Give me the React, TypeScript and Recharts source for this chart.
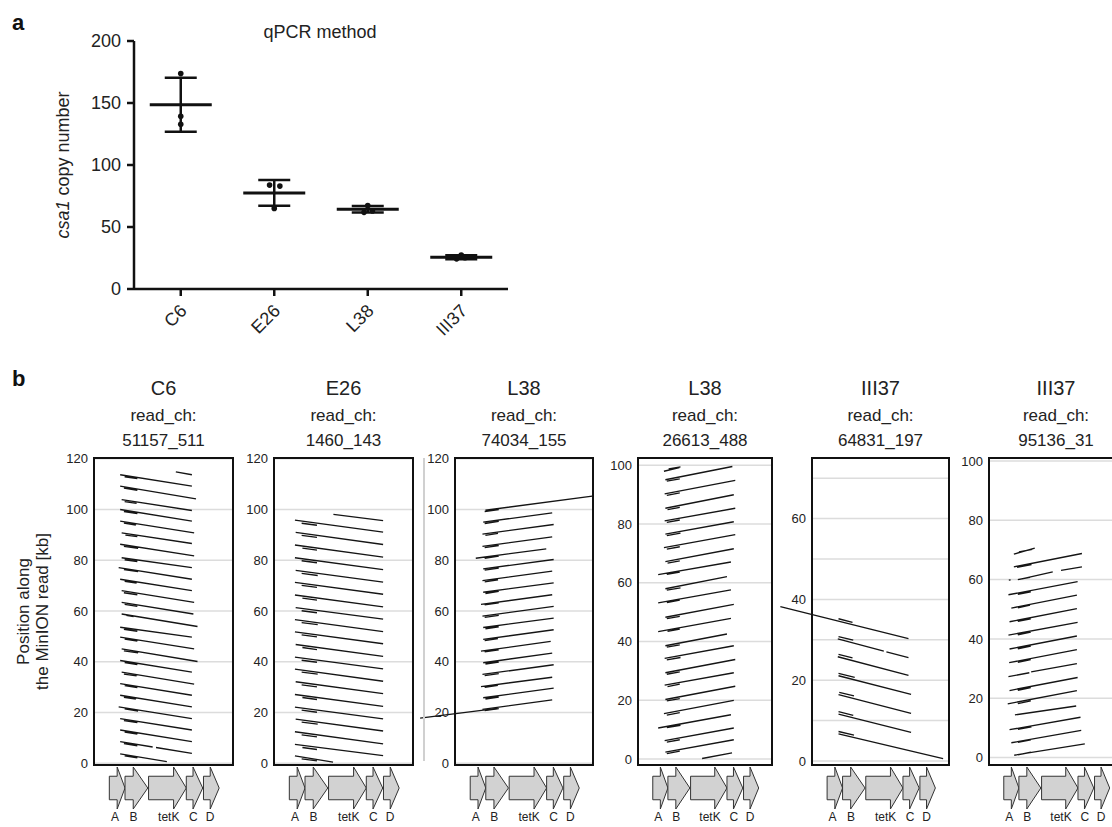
import React from 'react';
import {
  ComposedChart, Line, Scatter, ErrorBar, XAxis, YAxis, CartesianGrid,
  ReferenceLine, ReferenceArea,
} from 'recharts';

type Seg = [number, number, number, number];

const FONT = '"Liberation Sans", Arial, Helvetica, sans-serif';

// ---- panel a: qPCR copy number ----
const strains = ['C6', 'E26', 'L38', 'III37'];
const qpcrMean = [148.6, 77.5, 64.3, 25.6];
const qpcrSd = [21.8, 10.4, 2.6, 1.6];
const qpcrReps = [
  [173.7, 139.3, 132.9],
  [83.8, 83.0, 65.0],
  [67.2, 61.8, 63.0],
  [27.3, 24.3, 25.3],
];
const qpcrJitter = [
  [0, 0, 0],
  [-0.05, 0.06, 0],
  [0, -0.04, 0.05],
  [0, -0.05, 0.04],
];

// ---- panel b: genes on the reference (x in kb-ish units) ----
const genes = ['A', 'B', 'tetK', 'C', 'D'];
const geneStart = [0.41, 0.83, 1.46, 2.47, 2.93];
const geneHead = [0.62, 1.05, 2.13, 2.65, 3.11];
const geneEnd = [0.83, 1.44, 2.47, 2.91, 3.35];
const geneLabelX = [0.56, 1.06, 2.0, 2.66, 3.11];

const readStrains = ['C6', 'E26', 'L38', 'L38', 'III37', 'III37'];
const readIds = ['51157_511', '1460_143', '74034_155', '26613_488', '64831_197', '95136_31'];

// alignments [refStart, readStart, refEnd, readEnd]
const c6Hits: Seg[] = [
  [2.19, 114.8, 2.62, 113.7],
  [0.70, 113.7, 2.62, 109.2], [0.70, 109.2, 2.73, 104.2], [0.74, 103.9, 2.62, 99.6],
  [0.70, 100.0, 2.62, 95.4], [0.70, 95.4, 2.68, 90.8], [0.74, 90.8, 2.62, 86.6],
  [0.70, 86.3, 2.68, 81.7], [0.74, 81.0, 2.62, 77.1], [0.66, 77.1, 2.62, 72.5],
  [0.70, 72.5, 2.62, 68.0], [0.74, 68.0, 2.68, 63.4], [0.74, 63.4, 2.66, 58.8],
  [0.74, 58.8, 2.77, 53.9], [0.70, 53.6, 2.62, 49.7], [0.70, 49.7, 2.68, 45.1],
  [0.74, 45.1, 2.77, 40.1], [0.70, 40.5, 2.62, 35.9], [0.74, 35.9, 2.68, 31.2],
  [0.70, 31.4, 2.62, 26.8], [0.70, 26.8, 2.62, 22.2], [0.66, 22.2, 2.62, 17.6],
  [0.70, 17.6, 2.62, 13.1], [0.70, 13.1, 2.62, 8.5], [0.70, 8.5, 1.57, 6.4],
  [1.66, 6.2, 2.62, 3.9], [0.70, 3.7, 1.95, 0.6],
  [0.82, 112.9, 1.16, 112.2], [0.80, 108.4, 1.16, 107.6], [0.82, 103.1, 1.14, 102.4],
  [0.80, 99.2, 1.16, 98.4], [0.80, 94.6, 1.12, 93.9], [0.84, 89.9, 1.16, 89.3],
  [0.80, 85.5, 1.18, 84.7], [0.82, 80.2, 1.16, 79.5], [0.80, 76.3, 1.18, 75.5],
  [0.82, 71.7, 1.14, 71.0], [0.80, 67.2, 1.16, 66.4], [0.82, 62.6, 1.16, 61.8],
  [0.86, 58.3, 1.06, 57.8], [0.80, 52.8, 1.16, 52.0], [0.82, 48.9, 1.16, 48.1],
  [0.80, 44.3, 1.18, 43.5], [0.82, 39.7, 1.16, 38.9], [0.80, 35.1, 1.14, 34.4],
  [0.82, 30.6, 1.16, 29.8], [0.80, 26.0, 1.12, 25.3], [0.82, 21.4, 1.18, 20.6],
  [0.80, 16.8, 1.16, 16.0], [0.82, 12.3, 1.16, 11.5], [0.80, 7.7, 1.16, 6.9],
  [0.82, 2.9, 1.16, 2.1],
];

const e26Hits: Seg[] = [
  [1.59, 98.1, 2.92, 95.6],
  [0.56, 95.8, 2.92, 91.1], [0.58, 91.0, 2.92, 86.2], [0.56, 86.0, 2.92, 81.2],
  [0.56, 81.0, 2.92, 76.3], [0.58, 76.0, 2.92, 71.4], [0.56, 71.3, 2.92, 66.6],
  [0.56, 66.3, 2.92, 61.6], [0.58, 61.3, 2.92, 56.8], [0.56, 56.6, 2.92, 51.9],
  [0.56, 51.8, 2.92, 47.1], [0.58, 46.8, 2.92, 42.1], [0.56, 41.8, 2.92, 37.2],
  [0.56, 37.1, 2.92, 32.3], [0.58, 32.1, 2.92, 27.4], [0.56, 27.1, 2.92, 22.4],
  [0.56, 22.1, 2.92, 17.5], [0.58, 17.4, 2.92, 12.7], [0.56, 12.4, 2.92, 7.6],
  [0.56, 7.4, 2.92, 3.0], [0.56, 2.9, 1.58, 0.4],
  [0.74, 94.6, 1.15, 93.8], [0.74, 89.8, 1.15, 89.0], [0.76, 84.8, 1.15, 84.0],
  [0.74, 79.8, 1.15, 79.0], [0.74, 74.8, 1.17, 74.0], [0.74, 70.1, 1.15, 69.3],
  [0.76, 65.1, 1.15, 64.3], [0.74, 60.1, 1.15, 59.3], [0.74, 55.4, 1.17, 54.6],
  [0.74, 50.6, 1.15, 49.8], [0.76, 45.6, 1.15, 44.8], [0.74, 40.6, 1.15, 39.8],
  [0.74, 35.9, 1.17, 35.1], [0.74, 30.9, 1.15, 30.1], [0.76, 25.9, 1.15, 25.1],
  [0.74, 20.9, 1.15, 20.1], [0.74, 16.2, 1.17, 15.4], [0.74, 11.2, 1.15, 10.4],
  [0.76, 6.2, 1.15, 5.4], [0.74, 1.7, 1.15, 0.9],
];

const l38aHits: Seg[] = [
  [0.82, 99.7, 3.70, 105.3],
  [0.76, 95.0, 2.62, 98.7], [0.74, 90.3, 2.66, 94.1], [0.74, 85.5, 2.62, 89.2],
  [0.56, 80.8, 2.46, 84.5], [0.76, 76.6, 2.66, 80.3], [0.74, 72.0, 2.62, 75.7],
  [0.76, 67.4, 2.66, 71.1], [0.70, 62.6, 2.62, 66.4], [0.74, 58.0, 2.66, 61.8],
  [0.76, 53.5, 2.66, 57.2], [0.76, 48.8, 2.66, 52.6], [0.70, 44.2, 2.58, 48.0],
  [0.76, 39.6, 2.62, 43.4], [0.74, 35.0, 2.66, 38.8], [0.70, 30.2, 2.62, 33.9],
  [0.76, 25.8, 2.66, 29.6], [0.74, 21.2, 2.62, 25.0],
  [0.80, 99.2, 1.18, 100.0], [0.80, 94.5, 1.18, 95.3], [0.82, 89.8, 1.16, 90.6],
  [0.80, 85.0, 1.18, 85.8], [0.80, 80.8, 1.18, 81.6], [0.80, 76.1, 1.18, 76.9],
  [0.80, 71.5, 1.16, 72.3], [0.82, 66.9, 1.18, 67.7], [0.80, 62.4, 1.18, 63.2],
  [0.80, 57.5, 1.18, 58.3], [0.82, 53.0, 1.18, 53.8], [0.80, 48.3, 1.16, 49.1],
  [0.80, 43.9, 1.18, 44.7], [0.82, 39.1, 1.18, 39.9], [0.80, 34.5, 1.18, 35.3],
  [0.80, 29.9, 1.16, 30.7], [0.82, 25.3, 1.18, 26.1], [0.80, 20.7, 1.18, 21.5],
];
const l38aOutside: Seg[] = [[-0.94, 17.8, 1.14, 21.6]];

const l38bHits: Seg[] = [
  [0.72, 98.0, 1.15, 99.2], [0.85, 98.8, 1.18, 99.5],
  [0.76, 95.1, 2.62, 99.6], [0.74, 90.3, 2.70, 94.9], [0.76, 85.4, 2.66, 90.0],
  [0.74, 81.1, 2.70, 85.4], [0.76, 76.6, 2.66, 80.8], [0.72, 72.0, 2.70, 76.4],
  [0.76, 67.2, 2.66, 71.6], [0.56, 62.8, 2.58, 67.1], [0.76, 58.0, 2.47, 62.1],
  [0.56, 53.2, 2.58, 57.6], [0.76, 48.3, 2.66, 52.7], [0.56, 43.4, 2.58, 47.9],
  [0.76, 38.6, 2.47, 42.6], [0.74, 34.3, 2.66, 38.6], [0.76, 29.4, 2.70, 33.9],
  [0.74, 25.2, 2.66, 29.4], [0.76, 20.3, 2.70, 24.8], [0.72, 15.5, 2.66, 20.0],
  [0.56, 10.6, 2.58, 15.1], [0.74, 6.3, 2.66, 10.6], [0.76, 2.4, 2.66, 6.6],
  [1.78, 0.2, 2.61, 2.1],
  [0.80, 94.6, 1.16, 95.4], [0.80, 89.8, 1.16, 90.6], [0.82, 84.9, 1.16, 85.7],
  [0.80, 80.6, 1.16, 81.4], [0.80, 76.1, 1.18, 76.9], [0.80, 71.5, 1.16, 72.3],
  [0.82, 66.7, 1.16, 67.5], [0.80, 62.9, 1.16, 63.7], [0.80, 57.5, 1.18, 58.3],
  [0.80, 53.3, 1.16, 54.1], [0.80, 47.8, 1.16, 48.6], [0.82, 43.5, 1.16, 44.3],
  [0.80, 38.1, 1.16, 38.9], [0.80, 33.8, 1.18, 34.6], [0.80, 28.9, 1.16, 29.7],
  [0.82, 24.7, 1.16, 25.5], [0.80, 19.8, 1.16, 20.6], [0.80, 15.0, 1.16, 15.8],
  [0.80, 10.7, 1.18, 11.5], [0.80, 5.8, 1.16, 6.6], [0.80, 1.9, 1.16, 2.7],
];

const iii37aHits: Seg[] = [
  [0.70, 30.2, 1.95, 27.2], [2.02, 27.0, 2.62, 25.6],
  [0.70, 25.8, 2.62, 21.2], [0.72, 21.1, 2.69, 16.5], [0.72, 16.4, 2.69, 11.8],
  [0.72, 11.6, 2.69, 7.1], [0.72, 6.7, 3.56, 0.6],
  [0.72, 35.2, 1.10, 34.3], [0.72, 30.8, 1.12, 29.9], [0.72, 26.4, 1.10, 25.5],
  [0.72, 21.7, 1.16, 20.7], [0.74, 17.0, 1.14, 16.1], [0.72, 12.2, 1.12, 11.3],
  [0.72, 7.3, 1.14, 6.4],
];
const iii37aOutside: Seg[] = [[-0.86, 38.2, 2.62, 30.3]];

const iii37bHits: Seg[] = [
  [0.69, 68.6, 1.27, 70.6], [0.69, 64.3, 2.58, 68.8],
  [0.85, 60.1, 1.77, 62.6], [2.00, 63.1, 2.58, 64.3], [0.55, 59.8, 0.60, 59.9],
  [0.54, 54.9, 2.46, 59.3], [0.62, 50.4, 2.44, 54.8], [0.57, 45.8, 2.44, 50.2],
  [0.54, 41.3, 2.46, 45.6], [0.57, 36.6, 2.44, 41.0], [0.56, 32.0, 2.44, 36.4],
  [0.54, 27.3, 1.12, 28.6], [1.17, 28.9, 2.44, 31.7], [0.57, 22.6, 2.46, 27.0],
  [0.52, 18.1, 2.44, 22.6], [0.72, 14.4, 2.42, 17.4], [0.57, 9.4, 2.54, 13.6],
  [0.62, 5.0, 2.56, 9.2], [0.70, 0.8, 2.66, 4.6],
  [0.83, 69.3, 1.20, 70.2], [0.78, 64.1, 1.18, 65.1], [0.80, 60.0, 1.14, 60.8],
  [0.80, 55.0, 1.16, 55.9], [0.80, 50.5, 1.14, 51.4], [0.80, 45.9, 1.16, 46.8],
  [0.80, 41.4, 1.16, 42.3], [0.80, 36.7, 1.16, 37.6], [0.80, 32.1, 1.16, 33.0],
  [0.80, 22.7, 1.16, 23.6], [0.80, 18.2, 1.16, 19.1], [0.80, 9.5, 1.18, 10.4],
  [0.80, 5.1, 1.16, 6.0], [0.80, 0.9, 1.16, 1.8],
];

const readHits = [c6Hits, e26Hits, l38aHits, l38bHits, iii37aHits, iii37bHits];
const readOutside: Seg[][] = [[], [], l38aOutside, [], iii37aOutside, []];

const yDomains: [number, number][] = [
  [-0.7, 120.3], [-0.7, 120.3], [-0.7, 120.3], [-2, 102.5], [-1, 75], [-2.5, 101],
];
const yTicks = [
  [0, 20, 40, 60, 80, 100, 120],
  [0, 20, 40, 60, 80, 100, 120],
  [0, 20, 40, 60, 80, 100, 120],
  [0, 20, 40, 60, 80, 100],
  [0, 10, 20, 30, 40, 50, 60, 70],
  [0, 20, 40, 60, 80, 100],
];
const refTicks = [1, 2, 3];
const REF_DOMAIN: [number, number] = [0, 3.72];

// layout
const panelLeft = [94, 274, 455, 638, 812, 989];
const panelWidth = [139, 139, 138, 134, 137, 134];
const FRAME_TOP = 458;
const FRAME_H = 307;
const AXIS_W = 40;
const PAD = 10;
const GENE_TOP = 765;

const MeanBar = (props: any) => (
  <line x1={props.cx - 31} x2={props.cx + 31} y1={props.cy} y2={props.cy} stroke="#111" strokeWidth={3} />
);
const Dot = (props: any) => <circle cx={props.cx} cy={props.cy} r={2.8} fill="#111" />;

const StrainTick = (props: any) => {
  const { x, y, payload } = props;
  const ax = x + 7;
  const ay = y + 14;
  return (
    <text x={ax} y={ay} textAnchor="end" transform={`rotate(-45 ${ax} ${ay})`}
      fontSize={18} fill="#222" fontFamily={FONT}>
      {strains[payload.value]}
    </text>
  );
};

function QpcrChart() {
  const meanRows = strains.map((s, i) => ({ x: i, y: qpcrMean[i], sd: qpcrSd[i] }));
  const repRows = qpcrReps.flatMap((vals, i) => vals.map((v, j) => ({ x: i + qpcrJitter[i][j], y: v })));
  return (
    <div style={{ position: 'absolute', left: 30, top: 0 }}>
      <ComposedChart width={488} height={339} margin={{ top: 41, right: 10, bottom: 0, left: 0 }}>
        <XAxis dataKey="x" type="number" domain={[-0.5, 3.5]} allowDataOverflow ticks={[0, 1, 2, 3]}
          interval={0} height={50} tickSize={7} tick={<StrainTick />}
          axisLine={{ stroke: '#111', strokeWidth: 2.5 }} tickLine={{ stroke: '#111', strokeWidth: 2.5 }} />
        <YAxis dataKey="y" type="number" domain={[0, 200]} allowDataOverflow ticks={[0, 50, 100, 150, 200]}
          interval={0} width={104} tickSize={7} tickMargin={6}
          tick={{ fontSize: 18, fill: '#222', fontFamily: FONT }}
          axisLine={{ stroke: '#111', strokeWidth: 2.5 }} tickLine={{ stroke: '#111', strokeWidth: 2.5 }} />
        <Scatter data={repRows} shape={Dot} isAnimationActive={false} />
        <Scatter data={meanRows} shape={MeanBar} isAnimationActive={false}>
          <ErrorBar dataKey="sd" direction="y" width={16} stroke="#111" strokeWidth={2.5} />
        </Scatter>
      </ComposedChart>
    </div>
  );
}

const GeneArrow = (props: any) => {
  const { x, y, width, height, head } = props;
  if (![x, y, width, height].every((v) => Number.isFinite(v))) return null;
  const hl = width * head;
  const xh = x + width - hl;
  const bt = y + height * 0.22;
  const bb = y + height * 0.78;
  const pts = [[x, bt], [xh, bt], [xh, y], [x + width, y + height / 2], [xh, y + height], [xh, bb], [x, bb]];
  return <polygon points={pts.map((p) => p.join(',')).join(' ')} fill="#d2d2d2" stroke="#333" strokeWidth={1} />;
};

function ReadPanel({ idx }: { idx: number }) {
  const w = panelWidth[idx];
  const dom = yDomains[idx];
  const rows: { x: number; y: number | null }[] = [];
  readHits[idx].forEach(([x1, y1, x2, y2]) => {
    rows.push({ x: x1, y: y1 }, { x: x2, y: y2 }, { x: x2, y: null });
  });
  const tickFmt = (v: number) => (idx === 4 && v % 20 !== 0 ? '' : String(v));
  const tickLine = { stroke: '#111', strokeWidth: 2 };
  const ghost = { stroke: 'none', dot: false, activeDot: false, isAnimationActive: false, legendType: 'none' as const };
  return (
    <div style={{ position: 'absolute', left: panelLeft[idx] - AXIS_W, top: FRAME_TOP - PAD }}>
      <ComposedChart width={AXIS_W + w + 6} height={FRAME_H + 2 * PAD} data={rows}
        margin={{ top: PAD, right: 6, bottom: PAD, left: 0 }}>
        <CartesianGrid xAxisId="b" yAxisId="l" stroke="#dcdcdc" strokeWidth={1.5} />
        <XAxis xAxisId="b" dataKey="x" type="number" domain={REF_DOMAIN} allowDataOverflow ticks={refTicks}
          orientation="bottom" mirror tick={false} tickSize={5} tickLine={tickLine} axisLine={false} height={6} />
        <XAxis xAxisId="t" dataKey="x" type="number" domain={REF_DOMAIN} allowDataOverflow ticks={refTicks}
          orientation="top" mirror tick={false} tickSize={5} tickLine={tickLine} axisLine={false} height={6} />
        <YAxis yAxisId="l" type="number" domain={dom} allowDataOverflow ticks={yTicks[idx]} interval={0}
          width={AXIS_W} tickSize={0} tickMargin={6} tickFormatter={tickFmt} axisLine={false} tickLine={false}
          tick={{ fontSize: 13, fill: '#222', fontFamily: FONT }} />
        <YAxis yAxisId="lm" type="number" domain={dom} allowDataOverflow ticks={yTicks[idx]} interval={0}
          mirror tick={false} tickSize={5} tickLine={tickLine} axisLine={false} width={6} />
        <YAxis yAxisId="r" orientation="right" type="number" domain={dom} allowDataOverflow ticks={yTicks[idx]}
          interval={0} mirror tick={false} tickSize={5} tickLine={tickLine} axisLine={false} width={6} />
        <Line xAxisId="t" yAxisId="lm" dataKey="y" {...ghost} />
        <Line xAxisId="t" yAxisId="r" dataKey="y" {...ghost} />
        <Line xAxisId="b" yAxisId="l" dataKey="y" stroke="#151515" strokeWidth={1.35} dot={false}
          activeDot={false} connectNulls={false} isAnimationActive={false} />
        {readOutside[idx].map(([x1, y1, x2, y2], k) => (
          <ReferenceLine key={k} xAxisId="b" yAxisId="l" ifOverflow="visible" stroke="#151515" strokeWidth={1.35}
            segment={[{ x: x1, y: y1 }, { x: x2, y: y2 }]} />
        ))}
        <ReferenceArea xAxisId="b" yAxisId="l" x1={REF_DOMAIN[0]} x2={REF_DOMAIN[1]} y1={dom[0]} y2={dom[1]}
          fill="none" fillOpacity={0} stroke="#111" strokeWidth={2} ifOverflow="visible" />
      </ComposedChart>
    </div>
  );
}

function GeneTrack({ idx }: { idx: number }) {
  const w = panelWidth[idx];
  const rows = geneLabelX.map((x) => ({ x, y: 0.5 }));
  return (
    <div style={{ position: 'absolute', left: panelLeft[idx] - AXIS_W, top: GENE_TOP }}>
      <ComposedChart width={AXIS_W + w + 6} height={62} data={rows}
        margin={{ top: 2, right: 6, bottom: 0, left: AXIS_W }}>
        <XAxis dataKey="x" type="number" domain={REF_DOMAIN} allowDataOverflow ticks={geneLabelX} interval={0}
          tickFormatter={(v: number) => genes[geneLabelX.indexOf(v)]} axisLine={false} tickLine={false}
          tickSize={0} tickMargin={3} height={18} tick={{ fontSize: 12, fill: '#222', fontFamily: FONT }} />
        <YAxis dataKey="y" type="number" domain={[0, 1]} allowDataOverflow hide />
        <Line dataKey="y" stroke="none" dot={false} activeDot={false} isAnimationActive={false} />
        {genes.map((g, i) => (
          <ReferenceArea key={g} x1={geneStart[i]} x2={geneEnd[i]} y1={0} y2={1} ifOverflow="visible"
            fill="#d2d2d2" stroke="#333"
            shape={(p: any) => (
              <GeneArrow {...p} head={(geneEnd[i] - geneHead[i]) / (geneEnd[i] - geneStart[i])} />
            )} />
        ))}
      </ComposedChart>
    </div>
  );
}

export default function App() {
  return (
    <div style={{ position: 'fixed', left: 0, top: 0, width: 1112, height: 827, overflow: 'hidden', background: '#fff', fontFamily: FONT }}>
      <QpcrChart />
      {readIds.map((r, i) => (
        <React.Fragment key={r}>
          <ReadPanel idx={i} />
          <GeneTrack idx={i} />
        </React.Fragment>
      ))}
      <div style={{ position: 'absolute', left: 423, top: FRAME_TOP, width: 1.5, height: FRAME_H - 4, background: '#d0d0d0' }} />
      <svg width={1112} height={827} style={{ position: 'absolute', left: 0, top: 0, pointerEvents: 'none' }}>
        <text x={12} y={30} fontSize={22} fontWeight="bold" fill="#111" fontFamily={FONT}>a</text>
        <text x={320} y={38} fontSize={18} fill="#222" textAnchor="middle" fontFamily={FONT}>qPCR method</text>
        <text x={63} y={165} fontSize={18} fill="#222" textAnchor="middle" dominantBaseline="central"
          transform="rotate(-90 63 165)" fontFamily={FONT}>
          <tspan fontStyle="italic">csa1</tspan> copy number
        </text>
        <text x={12} y={386} fontSize={22} fontWeight="bold" fill="#111" fontFamily={FONT}>b</text>
        {readIds.map((r, i) => {
          const cx = panelLeft[i] + panelWidth[i] / 2;
          return (
            <g key={r} fontFamily={FONT} fill="#222" textAnchor="middle">
              <text x={cx} y={395} fontSize={20}>{readStrains[i]}</text>
              <text x={cx} y={421} fontSize={17}>read_ch:</text>
              <text x={cx} y={446} fontSize={17}>{r}</text>
            </g>
          );
        })}
        <g transform={`rotate(-90 32 ${FRAME_TOP + FRAME_H / 2})`} fontFamily={FONT} fill="#222" fontSize={17} textAnchor="middle">
          <text x={32} y={FRAME_TOP + FRAME_H / 2 - 3}>Position along</text>
          <text x={32} y={FRAME_TOP + FRAME_H / 2 + 16}>the MinION read [kb]</text>
        </g>
      </svg>
    </div>
  );
}
